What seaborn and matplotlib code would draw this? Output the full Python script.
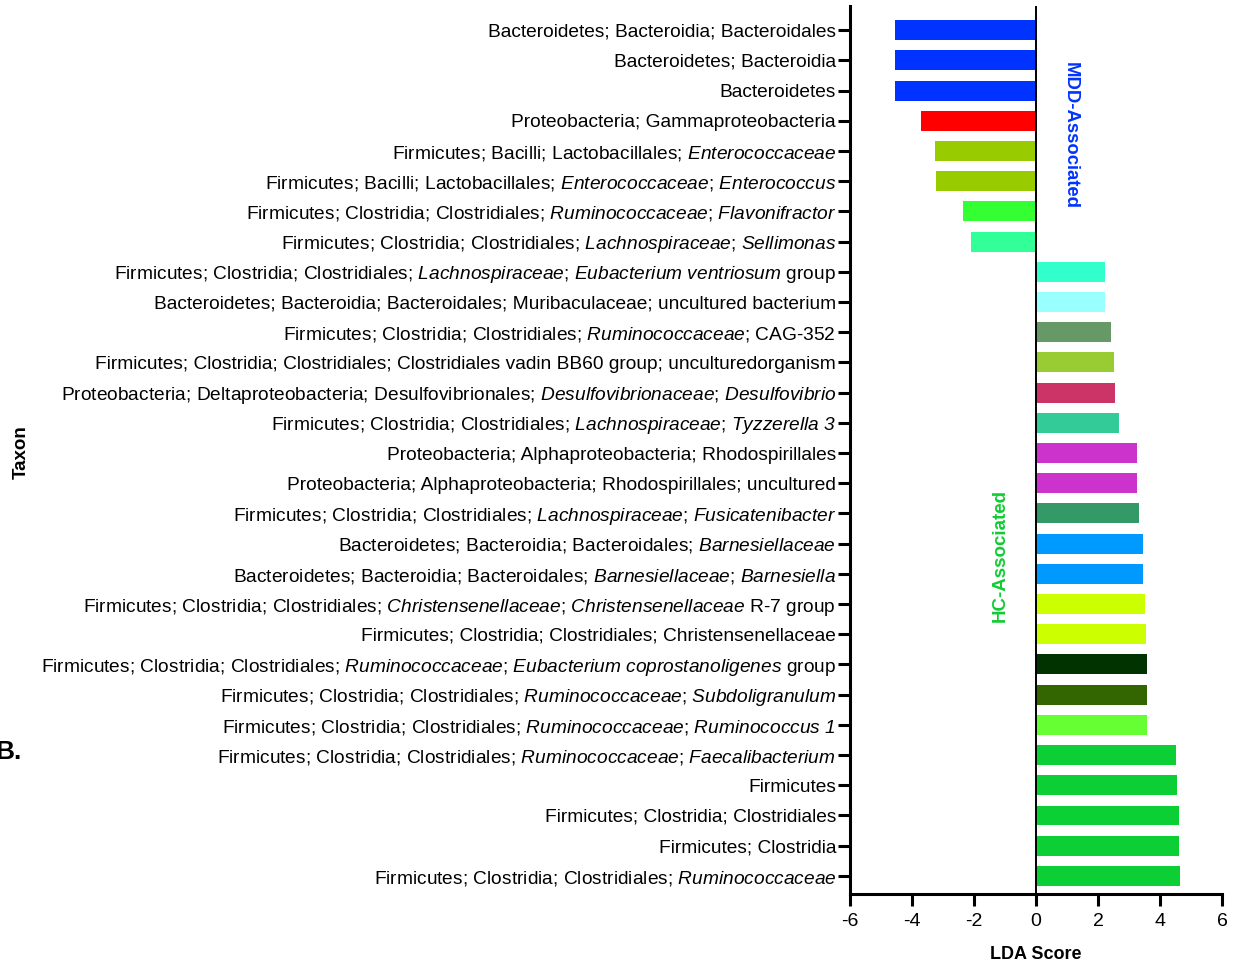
import matplotlib
matplotlib.use("Agg")
import matplotlib.pyplot as plt
import seaborn as sns

# italic parts are written as \mathsf{...}; the sf math font is mapped to the italic face
taxa = [
    "Bacteroidetes; Bacteroidia; Bacteroidales",
    "Bacteroidetes; Bacteroidia",
    "Bacteroidetes",
    "Proteobacteria; Gammaproteobacteria",
    r"Firmicutes; Bacilli; Lactobacillales; $\mathsf{Enterococcaceae}$",
    r"Firmicutes; Bacilli; Lactobacillales; $\mathsf{Enterococcaceae}$; $\mathsf{Enterococcus}$",
    r"Firmicutes; Clostridia; Clostridiales; $\mathsf{Ruminococcaceae}$; $\mathsf{Flavonifractor}$",
    r"Firmicutes; Clostridia; Clostridiales; $\mathsf{Lachnospiraceae}$; $\mathsf{Sellimonas}$",
    r"Firmicutes; Clostridia; Clostridiales; $\mathsf{Lachnospiraceae}$; $\mathsf{Eubacterium}$ $\mathsf{ventriosum}$ group",
    "Bacteroidetes; Bacteroidia; Bacteroidales; Muribaculaceae; uncultured bacterium",
    r"Firmicutes; Clostridia; Clostridiales; $\mathsf{Ruminococcaceae}$; CAG-352",
    "Firmicutes; Clostridia; Clostridiales; Clostridiales vadin BB60 group; unculturedorganism",
    r"Proteobacteria; Deltaproteobacteria; Desulfovibrionales; $\mathsf{Desulfovibrionaceae}$; $\mathsf{Desulfovibrio}$",
    r"Firmicutes; Clostridia; Clostridiales; $\mathsf{Lachnospiraceae}$; $\mathsf{Tyzzerella}$ $\mathsf{3}$",
    "Proteobacteria; Alphaproteobacteria; Rhodospirillales",
    "Proteobacteria; Alphaproteobacteria; Rhodospirillales; uncultured",
    r"Firmicutes; Clostridia; Clostridiales; $\mathsf{Lachnospiraceae}$; $\mathsf{Fusicatenibacter}$",
    r"Bacteroidetes; Bacteroidia; Bacteroidales; $\mathsf{Barnesiellaceae}$",
    r"Bacteroidetes; Bacteroidia; Bacteroidales; $\mathsf{Barnesiellaceae}$; $\mathsf{Barnesiella}$",
    r"Firmicutes; Clostridia; Clostridiales; $\mathsf{Christensenellaceae}$; $\mathsf{Christensenellaceae}$ R-7 group",
    "Firmicutes; Clostridia; Clostridiales; Christensenellaceae",
    r"Firmicutes; Clostridia; Clostridiales; $\mathsf{Ruminococcaceae}$; $\mathsf{Eubacterium}$ $\mathsf{coprostanoligenes}$ group",
    r"Firmicutes; Clostridia; Clostridiales; $\mathsf{Ruminococcaceae}$; $\mathsf{Subdoligranulum}$",
    r"Firmicutes; Clostridia; Clostridiales; $\mathsf{Ruminococcaceae}$; $\mathsf{Ruminococcus}$ $\mathsf{1}$",
    r"Firmicutes; Clostridia; Clostridiales; $\mathsf{Ruminococcaceae}$; $\mathsf{Faecalibacterium}$",
    "Firmicutes",
    "Firmicutes; Clostridia; Clostridiales",
    "Firmicutes; Clostridia",
    r"Firmicutes; Clostridia; Clostridiales; $\mathsf{Ruminococcaceae}$",
]

lda = [-4.55, -4.54, -4.54, -3.72, -3.25, -3.21, -2.37, -2.10,
       2.23, 2.23, 2.41, 2.52, 2.56, 2.67, 3.26, 3.27, 3.32, 3.44, 3.46,
       3.53, 3.54, 3.58, 3.58, 3.58, 4.52, 4.56, 4.62, 4.62, 4.66]

colors = ["#0033ff", "#0033ff", "#0033ff", "#ff0000", "#99cc00", "#99cc00",
          "#33ff33", "#33ff99", "#33ffcc", "#99ffff", "#669966", "#99cc33",
          "#cc3366", "#33cc99", "#cc33cc", "#cc33cc", "#339966", "#0099ff",
          "#0099ff", "#ccff00", "#ccff00", "#003300", "#336600", "#66ff33",
          "#0ccf35", "#0ccf35", "#0ccf35", "#0ccf35", "#0ccf35"]

xticks = [-6, -4, -2, 0, 2, 4, 6]

sns.set_style("white")
plt.rcParams["font.family"] = ["Liberation Sans", "DejaVu Sans"]
plt.rcParams["mathtext.fontset"] = "custom"
plt.rcParams["mathtext.rm"] = "Liberation Sans"
plt.rcParams["mathtext.it"] = "Liberation Sans:italic"
plt.rcParams["mathtext.sf"] = "Liberation Sans:italic"
plt.rcParams["mathtext.bf"] = "Liberation Sans:bold"
for k in ["text.color", "axes.labelcolor", "xtick.color", "ytick.color"]:
    plt.rcParams[k] = "black"

fig = plt.figure(figsize=(12.35, 9.66), dpi=100)
ax = fig.add_axes([850 / 1235, 1 - 894 / 966, 372 / 1235, 888 / 966])

sns.barplot(x=lda, y=taxa, hue=taxa, palette=colors, legend=False,
            orient="h", width=0.66, saturation=1, ax=ax, linewidth=0)

ax.set_xlim(-6, 6)
ax.set_ylim(28.6, -0.8)
ax.set_xticks(xticks)
ax.set_xticklabels([str(t) for t in xticks], fontsize=14)
ax.tick_params(axis="y", labelsize=13.8, length=8.5, width=2.2, pad=1.5, left=True,
               colors="black")
ax.tick_params(axis="x", length=8.5, width=2.2, pad=5, bottom=True, colors="black")
ax.axvline(0, color="black", lw=1.4, zorder=5)

for s in ["top", "right"]:
    ax.spines[s].set_visible(False)
for s in ["left", "bottom"]:
    ax.spines[s].set_linewidth(2.2)
    ax.spines[s].set_color("black")

ax.set_xlabel("LDA Score", fontsize=13, fontweight="bold", labelpad=12, color="black")
ax.set_ylabel("Taxon", fontsize=13.5, fontweight="bold", color="black")
ax.yaxis.set_label_coords(-2.205, 0.498)

ax.text(1.1, 3.48, "MDD-Associated", rotation=-90, color="#0033ff",
        fontsize=13.3, fontweight="bold", ha="center", va="center")
ax.text(-1.16, 17.4, "HC-Associated", rotation=90, color="#11cc33",
        fontsize=13.5, fontweight="bold", ha="center", va="center")

fig.text(-0.004, 1 - 752 / 966, "B.", fontsize=19, fontweight="bold",
         ha="left", va="center", color="black")

fig.savefig("out.png", dpi=100)
